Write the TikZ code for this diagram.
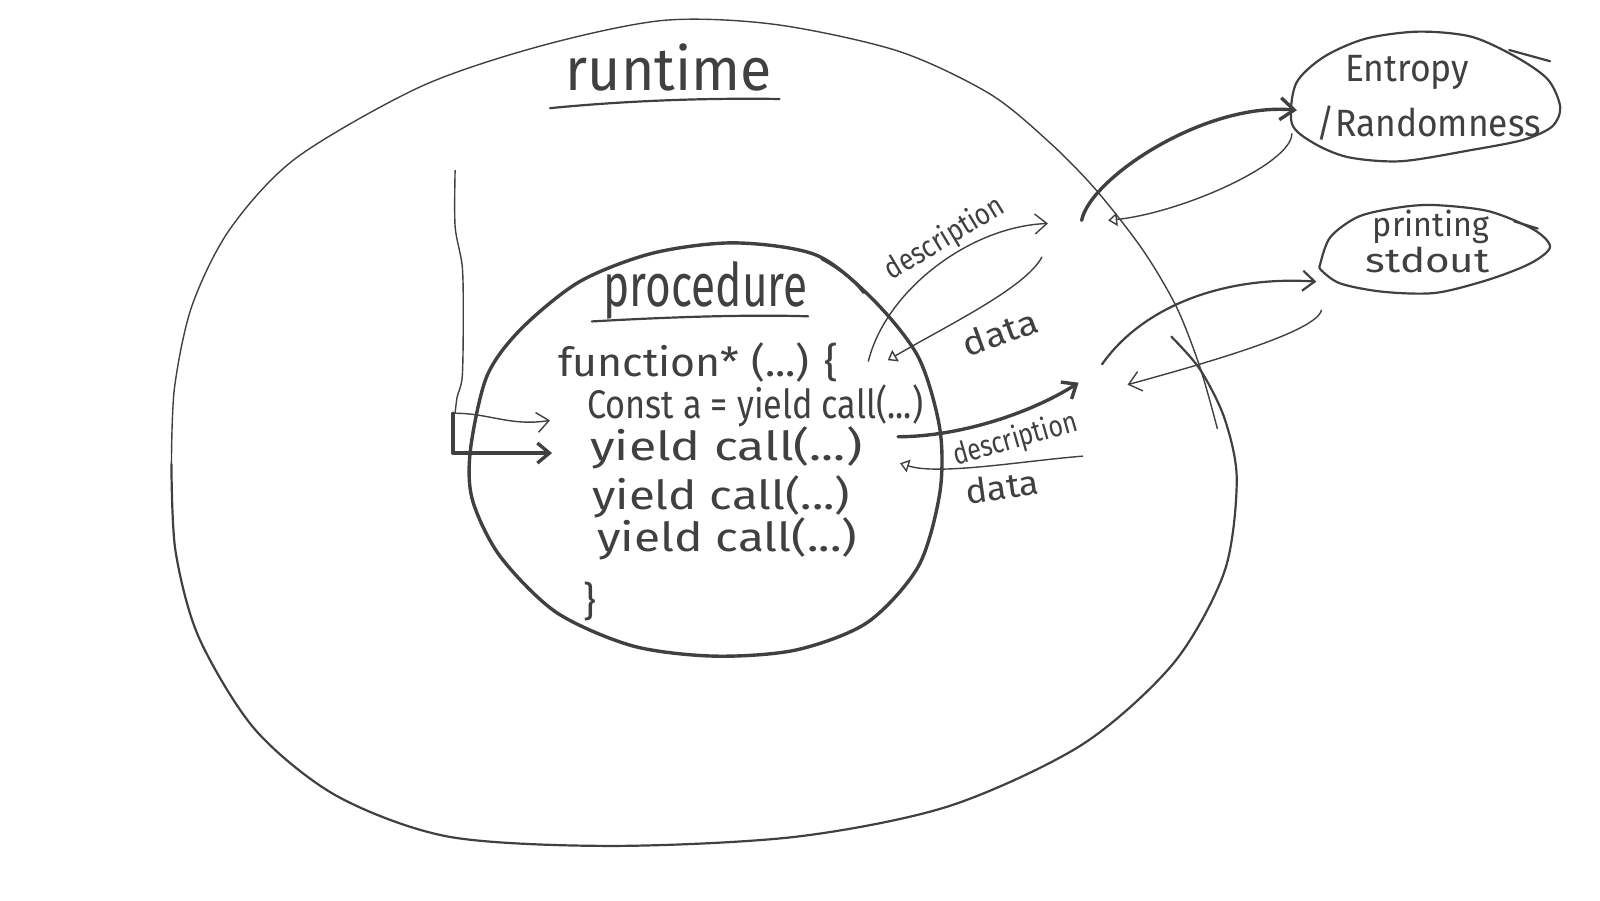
\documentclass[tikz,border=0pt]{standalone}
\usepackage{fontspec}
\setmainfont{Fira Sans}
\usepackage{graphicx}
\usetikzlibrary{arrows.meta}
\definecolor{ink}{HTML}{404040}
\tikzset{
  inkline/.style={draw=ink, line cap=round, line join=round},
  thinl/.style={inkline, line width=0.7pt},
  midl/.style={inkline, line width=1.1pt},
  thickl/.style={inkline, line width=1.7pt},
  barb/.style={-{Straight Barb[length=6pt,width=10pt]}},
  bigbarb/.style={-{Straight Barb[length=7pt,width=11pt]}},
  tri/.style={-{Triangle[open,length=4.5pt,width=6.5pt]}},
  lbl/.style={text=ink, inner sep=0pt},
  codefont/.style={font=\fontsize{20pt}{24pt}\selectfont},
  titlefont/.style={font=\fontsize{30pt}{36pt}\selectfont},
  arrowfont/.style={font=\fontsize{15pt}{18pt}\selectfont},
  datafont/.style={font=\fontsize{17pt}{20pt}\selectfont},
  extfont/.style={font=\fontsize{19pt}{22pt}\selectfont},
}
\newcommand{\fitx}[2]{\resizebox{#1}{\height}{#2}}
\begin{document}
\begin{tikzpicture}[x=0.5102pt,y=-0.5102pt]
\useasboundingbox (0,0) rectangle (1568,882);

% ---------- runtime (big ellipse, two strokes) ----------
\draw[thinl] plot[smooth] coordinates {(168,455) (171,380) (188,300) (225,225) (290,155) (412,85) (530,45) (650,20) (760,24) (880,50) (970,92) (1029,140) (1074,186) (1120,245) (1153,301) (1176,360) (1193,420)};
\draw[midl] plot[smooth] coordinates {(1148,330) (1176,362) (1200,410) (1212,470) (1200,560) (1150,650) (1060,730) (930,790) (780,820) (600,829) (440,820) (330,780) (250,715) (195,625) (172,540) (168,455)};

\node[lbl,titlefont,anchor=base west] (truntime) at (554,89) {\fitx{103pt}{runtime}};
\draw[midl] (539,106) .. controls (620,98) and (700,96) .. (764,97);

% ---------- procedure ellipse ----------
\draw[thickl] plot[smooth cycle] coordinates {(461,441) (477,369) (510,323) (568,276) (640,248) (720,238) (800,250) (856,294) (900,350) (921,420) (921,483) (900,555) (850,610) (780,637) (700,643) (620,633) (545,600) (490,545) (463,490)};
\draw[midl] (805,254) .. controls (820,262) and (836,273) .. (846,287);

\node[lbl,titlefont,anchor=base west] (tproc) at (591,300) {\fitx{102pt}{procedure}};
\draw[midl] (580,315) .. controls (650,311) and (730,308) .. (792,310);

\node[lbl,codefont,anchor=base west] (lfun) at (547,369) {\fitx{140pt}{function* (...) \{}};
\node[lbl,codefont,anchor=base west] (lconst) at (575,410) {\fitx{168pt}{Const a = yield call(...)}};
\node[lbl,codefont,anchor=base west] (lyield1) at (578,451) {\fitx{136pt}{yield call(...)}};
\node[lbl,codefont,anchor=base west] (lyield2) at (580,499) {\fitx{129pt}{yield call(...)}};
\node[lbl,codefont,anchor=base west] (lyield3) at (585,540) {\fitx{130pt}{yield call(...)}};
\node[lbl,codefont,anchor=base west] (lclose) at (571,603) {\}};

% ---------- left stem and arrows into the procedure ----------
\coordinate (stemtop) at (446,167);
\coordinate (stemfoot) at (446,405);
\coordinate (constin) at (539,412);
\coordinate (lcorner) at (444,405);
\coordinate (yieldin) at (541,444);
\draw[thinl] plot[smooth] coordinates {(stemtop) (446,222) (453,261) (454,311) (453,369) (448,389) (stemfoot)};
\draw[thinl,barb] (stemfoot) .. controls (480,405) and (500,418) .. (constin);
\draw[thickl,barb] (lcorner) |- (yieldin);

% ---------- procedure <-> runtime ----------
\coordinate (d1s) at (851,354);
\coordinate (d1e) at (1027,219);
\coordinate (a1s) at (1021,252);
\coordinate (a1e) at (870,353);
\coordinate (d2s) at (880,428);
\coordinate (d2e) at (1057,375);
\coordinate (a2s) at (1061,447);
\coordinate (a2e) at (882,454);
\draw[thinl,barb] (d1s) .. controls (868,285) and (950,222) .. (d1e);
\draw[thinl,tri] (a1s) .. controls (1005,282) and (930,318) .. (a1e);
\draw[thickl,barb] (d2s) .. controls (940,428) and (1010,405) .. (d2e);
\draw[thinl,tri] (a2s) .. controls (1000,452) and (920,466) .. (a2e);

\node[lbl,arrowfont,rotate=31] (tdesc1) at (926,234) {\fitx{67pt}{description}};
\node[lbl,datafont,rotate=20] (tdata1) at (980,326) {\fitx{39pt}{data}};
\node[lbl,arrowfont,rotate=16] (tdesc2) at (995,431) {\fitx{64pt}{description}};
\node[lbl,datafont,rotate=8] (tdata2) at (982,477) {\fitx{37pt}{data}};

% ---------- Entropy / Randomness ----------
\draw[midl] plot[smooth cycle] coordinates {(1266,121) (1270,82) (1297,56) (1338,38) (1390,31) (1442,36) (1486,56) (1517,78) (1529,105) (1521,124) (1493,137) (1442,147) (1373,158) (1321,154) (1287,140)};
\draw[midl] (1479,49) -- (1519,60);
\node[lbl,extfont,anchor=base west] (tent) at (1318,80) {\fitx{62pt}{Entropy}};
\node[lbl,extfont,anchor=base west] (trand) at (1290,134) {\fitx{112pt}{/Randomness}};

% ---------- printing stdout ----------
\draw[midl] plot[smooth cycle] coordinates {(1294,258) (1304,232) (1332,212) (1373,203) (1407,201) (1459,207) (1503,225) (1519,242) (1500,258) (1459,274) (1407,287) (1356,286) (1314,278) (1295,265)};
\draw[midl] (1484,217) -- (1507,224);
\node[lbl,datafont,anchor=base west] (tprint) at (1345,232) {\fitx{58pt}{printing}};
\node[lbl,datafont,anchor=base west] (tstd) at (1338,267) {\fitx{62pt}{stdout}};

% ---------- runtime <-> outside ----------
\coordinate (e1s) at (1060,216);
\coordinate (e1e) at (1271,108);
\coordinate (e2s) at (1266,131);
\coordinate (e2e) at (1086,216);
\coordinate (p1s) at (1080,357);
\coordinate (p1e) at (1290,276);
\coordinate (p2s) at (1295,304);
\coordinate (p2e) at (1105,377);
\draw[thickl,bigbarb] (e1s) .. controls (1068,175) and (1180,100) .. (e1e);
\draw[thinl,tri] (e2s) .. controls (1266,160) and (1160,208) .. (e2e);
\draw[midl,barb] (p1s) .. controls (1120,300) and (1200,270) .. (p1e);
\draw[thinl,barb] (p2s) .. controls (1290,325) and (1185,355) .. (p2e);
\end{tikzpicture}
\end{document}
